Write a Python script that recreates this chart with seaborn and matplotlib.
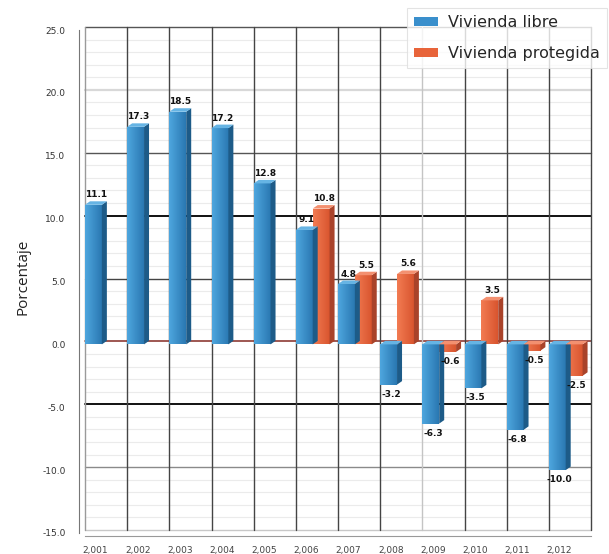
import numpy as np
import pandas as pd
import seaborn as sns
import matplotlib
matplotlib.use("Agg")
import matplotlib.pyplot as plt
from matplotlib.patches import Polygon, Rectangle
from matplotlib.colors import to_rgb
from matplotlib import transforms

# ---- data -------------------------------------------------------------
years = [2001, 2002, 2003, 2004, 2005, 2006, 2007, 2008, 2009, 2010, 2011, 2012]
year_labels = ["2,001", "2,002", "2,003", "2,004", "2,005", "2,006",
               "2,007", "2,008", "2,009", "2,010", "2,011", "2,012"]
libre = [11.1, 17.3, 18.5, 17.2, 12.8, 9.1, 4.8, -3.2, -6.3, -3.5, -6.8, -10.0]
protegida = [np.nan, np.nan, np.nan, np.nan, np.nan, 10.8, 5.5, 5.6, -0.6, 3.5, -0.5, -2.5]
series_names = ["Vivienda libre", "Vivienda protegida"]

df = pd.DataFrame({
    "year": year_labels * 2,
    "serie": [series_names[0]] * len(years) + [series_names[1]] * len(years),
    "valor": libre + protegida,
})

# ---- style ------------------------------------------------------------
sns.set_style("white")
plt.rcParams["font.family"] = ["DejaVu Sans"]

front = {series_names[0]: ("#4ea6de", "#2a78b2"), series_names[1]: ("#f27b52", "#d9552f")}
side = {series_names[0]: "#1d5b88", series_names[1]: "#a9432a"}
topc = {series_names[0]: "#66b4e4", series_names[1]: "#f39070"}
palette = {series_names[0]: "#3a8fcc", series_names[1]: "#e8643a"}

fig = plt.figure(figsize=(6.09, 5.54), dpi=100)
ax = fig.add_axes([85 / 609, 1 - 533 / 554, 506 / 609, 503 / 554])

sns.barplot(data=df, x="year", y="valor", hue="serie", hue_order=series_names,
            palette=palette, width=0.8, saturation=1, ax=ax, legend=False,
            zorder=3, linewidth=0, errorbar=None)

XMIN, XMAX, YMIN, YMAX = -0.4, 11.6, -15, 25
ax.set_xlim(XMIN, XMAX)
ax.set_ylim(YMIN, YMAX)

# pixel -> data scale for the depth offset
px_x = (XMAX - XMIN) / 506.0
px_y = (YMAX - YMIN) / 503.0
dx, dy = 5 * px_x, 3.5 * px_y

# ---- grid (back wall, shifted slightly up) ------------------------------
wall = transforms.offset_copy(ax.get_yaxis_transform(), fig=fig, x=0, y=3, units="dots")
for v in range(-15, 26):
    if v % 5 != 0:
        ax.plot([0, 1], [v, v], transform=wall, color="#ebebeb", lw=0.8, zorder=1)
major_style = {25: ("#555555", 1.0), 20: ("#d8d8d8", 1.6), 15: ("#555555", 1.0),
               10: ("#111111", 1.4), 5: ("#444444", 1.0), 0: ("#8e3b35", 1.2),
               -5: ("#111111", 1.4), -10: ("#8a8a8a", 1.0), -15: ("#c8c8c8", 1.0)}
for v, (c, w) in major_style.items():
    ax.plot([0, 1], [v, v], transform=wall, color=c, lw=w, zorder=1,
            clip_on=False)

vwall = transforms.offset_copy(ax.get_xaxis_transform(), fig=fig, x=0, y=3, units="dots")
for i in range(len(years) + 1):
    xb = i - 0.4
    c = "#444444"
    if i == 0:
        c = "#9a9a9a"
    elif i == 8:
        c = "#c4c4c4"
    ax.plot([xb, xb], [0, 1], transform=vwall, color=c, lw=1.0, zorder=1,
            clip_on=False)

# ---- 3D faces, gradient and value label on each bar ---------------------
for name, container in zip(series_names, ax.containers):
    for patch in container.patches:
        x0, w = patch.get_x(), patch.get_width()
        y0, h = patch.get_y(), patch.get_height()
        if not np.isfinite(h):
            continue
        val = y0 + h
        lo, hi = min(y0, val), max(y0, val)
        # front face gradient
        c1, c2 = np.array(to_rgb(front[name][0])), np.array(to_rgb(front[name][1]))
        t = np.linspace(0, 1, 32)[None, :, None]
        grad = c1 + (c2 - c1) * t
        im = ax.imshow(grad, extent=(x0, x0 + w, lo, hi), aspect="auto",
                       zorder=3.5, origin="lower", interpolation="bilinear")
        im.set_clip_path(patch)
        # right side
        ax.add_patch(Polygon([(x0 + w, lo), (x0 + w + dx, lo + dy),
                              (x0 + w + dx, hi + dy), (x0 + w, hi)],
                             closed=True, facecolor=side[name], edgecolor="none",
                             zorder=3.6))
        # top cap
        ax.add_patch(Polygon([(x0, hi), (x0 + w, hi), (x0 + w + dx, hi + dy),
                              (x0 + dx, hi + dy)],
                             closed=True, facecolor=topc[name], edgecolor="none",
                             zorder=3.6))
        cx = x0 + w / 2 + dx / 2
        if val >= 0:
            ax.text(cx, hi + dy + 2 * px_y, f"{val:.1f}", ha="center", va="bottom",
                    fontsize=6.5, fontweight="bold", color="#111111", zorder=5)
        else:
            ax.text(cx, lo - 5 * px_y, f"{val:.1f}", ha="center", va="top",
                    fontsize=6.5, fontweight="bold", color="#111111", zorder=5)

ax.set_xlim(XMIN, XMAX)
ax.set_ylim(YMIN, YMAX)

# ---- axes ---------------------------------------------------------------
for s in ["top", "right"]:
    ax.spines[s].set_visible(False)
ax.spines["left"].set_position(("outward", 4))
ax.spines["bottom"].set_position(("outward", 2))
ax.spines["left"].set_color("#777777")
ax.spines["bottom"].set_color("#999999")

ax.set_yticks(np.arange(-15, 26, 5))
ax.set_yticklabels([f"{v:.1f}" for v in np.arange(-15, 26, 5)])
ax.set_yticks(np.arange(-15, 26, 1), minor=True)
ax.tick_params(axis="y", which="major", length=3, width=0.8, color="#777777",
               labelsize=6.5, labelcolor="#333333", pad=7)
ax.tick_params(axis="y", which="minor", length=1.5, width=0.6, color="#999999")

ax.set_xticks([i - 0.15 for i in range(len(years))])
ax.set_xticklabels(year_labels)
ax.set_xticks([i - 0.4 for i in range(len(years) + 1)], minor=True)
ax.tick_params(axis="x", which="major", length=0, labelsize=6.5,
               labelcolor="#444444", pad=7)
ax.tick_params(axis="x", which="minor", length=3, width=0.8, color="#777777")

ax.set_xlabel("")
ax.set_ylabel("Porcentaje", fontsize=11, family=["Open Sans", "DejaVu Sans"],
              color="#222222")
ax.yaxis.set_label_coords(-0.108, 0.51)

# ---- legend -------------------------------------------------------------
handles = [Rectangle((0, 0), 1, 1, facecolor=palette[n], edgecolor="none")
           for n in series_names]
leg = fig.legend(handles, series_names, loc="upper right",
                 bbox_to_anchor=(607 / 609, 1 - 8 / 554), fontsize=11.5,
                 frameon=True, fancybox=False, shadow=False,
                 handlelength=1.5, handleheight=0.55, handletextpad=0.6,
                 labelspacing=1.0, borderpad=0.45, borderaxespad=0)
leg.get_frame().set_edgecolor("#dddddd")
leg.get_frame().set_linewidth(0.8)
leg.set_zorder(10)

fig.savefig("out.png", dpi=100)
